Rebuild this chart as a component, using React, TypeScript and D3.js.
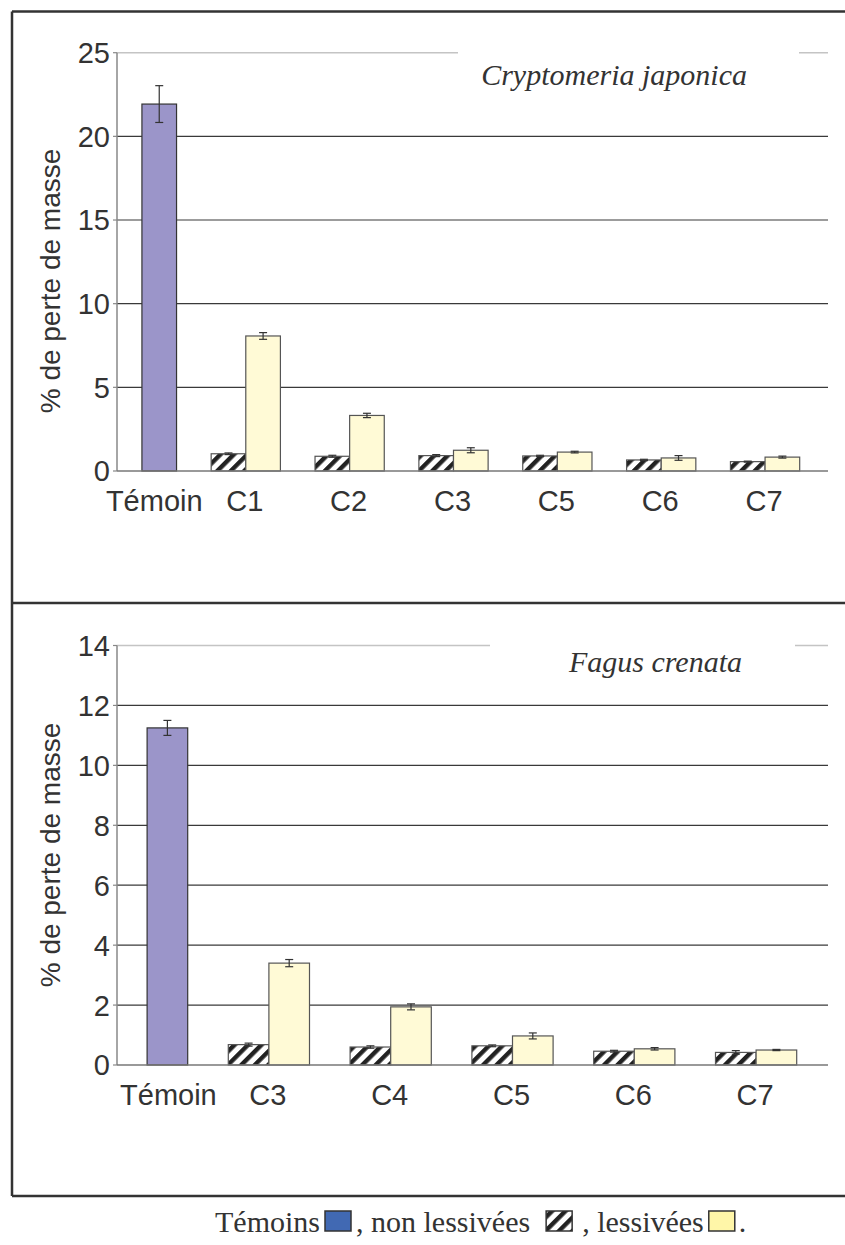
import * as d3 from "d3";
import { useEffect, useRef } from "react";

// Cryptomeria japonica panel
const topCategories = ["Témoin", "C1", "C2", "C3", "C5", "C6", "C7"];
const topTemoin = [21.93];
const topTemoinErr = [1.1];
const topNonLessivees = [null, 1.03, 0.88, 0.92, 0.9, 0.66, 0.56];
const topNonLessiveesErr = [null, 0.05, 0.06, 0.06, 0.04, 0.04, 0.03];
const topLessivees = [null, 8.07, 3.32, 1.24, 1.13, 0.78, 0.83];
const topLessiveesErr = [null, 0.2, 0.13, 0.15, 0.05, 0.14, 0.06];
const topTicks = [0, 5, 10, 15, 20, 25];

// Fagus crenata panel
const bottomCategories = ["Témoin", "C3", "C4", "C5", "C6", "C7"];
const bottomTemoin = [11.25];
const bottomTemoinErr = [0.25];
const bottomNonLessivees = [null, 0.68, 0.6, 0.64, 0.46, 0.42];
const bottomNonLessiveesErr = [null, 0.05, 0.04, 0.03, 0.03, 0.06];
const bottomLessivees = [null, 3.4, 1.94, 0.97, 0.54, 0.5];
const bottomLessiveesErr = [null, 0.12, 0.1, 0.1, 0.04, 0.02];
const bottomTicks = [0, 2, 4, 6, 8, 10, 12, 14];

const SANS = "'Liberation Sans', Arial, Helvetica, sans-serif";
const SERIF = "'Liberation Serif', 'Times New Roman', serif";
const C_TEMOIN = "#9b95c9";
const C_LESS = "#fffad6";
const C_DARK = "#333333";

interface PanelSpec {
  title: string;
  categories: string[];
  temoin: number[];
  temoinErr: number[];
  nonLess: (number | null)[];
  nonLessErr: (number | null)[];
  less: (number | null)[];
  lessErr: (number | null)[];
  ticks: number[];
  top: number;
  bottom: number;
  xStart: number;
  titleGap: [number, number];
  titleY: number;
  titleRight: number;
  yTitleCenter: number;
  temoinLabelShift: number;
}

export default function App() {
  const svgRef = useRef<SVGSVGElement>(null);

  useEffect(() => {
    if (!svgRef.current) return;
    const svg = d3.select(svgRef.current);
    svg.selectAll("*").remove();

    const defs = svg.append("defs");
    const pat = defs
      .append("pattern")
      .attr("id", "hatch")
      .attr("patternUnits", "userSpaceOnUse")
      .attr("width", 9.5)
      .attr("height", 9.5)
      .attr("patternTransform", "rotate(45)");
    pat.append("rect").attr("width", 9.5).attr("height", 9.5).attr("fill", "#fff");
    pat.append("rect").attr("width", 4.4).attr("height", 9.5).attr("fill", "#222");

    // frame
    const frame = svg.append("g").attr("stroke", C_DARK).attr("stroke-width", 2.5).attr("fill", "none");
    frame.append("line").attr("x1", 12).attr("x2", 845).attr("y1", 11.5).attr("y2", 11.5);
    frame.append("line").attr("x1", 12).attr("x2", 12).attr("y1", 11.5).attr("y2", 1196);
    frame.append("line").attr("x1", 12).attr("x2", 845).attr("y1", 603).attr("y2", 603);
    frame.append("line").attr("x1", 12).attr("x2", 845).attr("y1", 1196).attr("y2", 1196);

    const panels: PanelSpec[] = [
      {
        title: "Cryptomeria japonica",
        categories: topCategories,
        temoin: topTemoin,
        temoinErr: topTemoinErr,
        nonLess: topNonLessivees,
        nonLessErr: topNonLessiveesErr,
        less: topLessivees,
        lessErr: topLessiveesErr,
        ticks: topTicks,
        top: 52.7,
        bottom: 471,
        xStart: 90,
        titleGap: [458, 799],
        titleY: 85,
        titleRight: 747,
        yTitleCenter: 281,
        temoinLabelShift: -5,
      },
      {
        title: "Fagus crenata",
        categories: bottomCategories,
        temoin: bottomTemoin,
        temoinErr: bottomTemoinErr,
        nonLess: bottomNonLessivees,
        nonLessErr: bottomNonLessiveesErr,
        less: bottomLessivees,
        lessErr: bottomLessiveesErr,
        ticks: bottomTicks,
        top: 645.5,
        bottom: 1065,
        xStart: 86.2,
        titleGap: [490, 795],
        titleY: 672,
        titleRight: 742,
        yTitleCenter: 855,
        temoinLabelShift: 1,
      },
    ];

    const axisX = 117;
    const plotRight = 828;

    panels.forEach((p) => {
      const g = svg.append("g");
      const y = d3
        .scaleLinear()
        .domain([0, p.ticks[p.ticks.length - 1]])
        .range([p.bottom, p.top]);
      const x = d3.scaleBand().domain(p.categories).range([p.xStart, 817]).paddingInner(0).paddingOuter(0);
      const sub = d3
        .scaleBand()
        .domain(["non", "less"])
        .range([0, x.bandwidth()])
        .paddingInner(0)
        .paddingOuter(0.5);

      // gridlines
      p.ticks.slice(1).forEach((t, i, arr) => {
        g.append("line")
          .attr("x1", axisX)
          .attr("x2", plotRight)
          .attr("y1", y(t))
          .attr("y2", y(t))
          .attr("stroke", i === arr.length - 1 ? "#c4c4c4" : "#3a3a3a")
          .attr("stroke-width", i === arr.length - 1 ? 1.5 : 1.2);
      });

      // y axis
      g.append("line")
        .attr("x1", axisX)
        .attr("x2", axisX)
        .attr("y1", p.top)
        .attr("y2", p.bottom)
        .attr("stroke", "#888")
        .attr("stroke-width", 1.5);
      p.ticks.forEach((t) => {
        g.append("line")
          .attr("x1", axisX - 4)
          .attr("x2", axisX)
          .attr("y1", y(t))
          .attr("y2", y(t))
          .attr("stroke", "#888")
          .attr("stroke-width", 1.2);
        g.append("text")
          .attr("x", 110)
          .attr("y", y(t))
          .attr("dy", "0.36em")
          .attr("text-anchor", "end")
          .style("font-family", SANS)
          .style("font-size", "29px")
          .style("fill", C_DARK)
          .text(t);
      });

      // title box
      g.append("rect")
        .attr("x", p.titleGap[0])
        .attr("y", p.top - 4)
        .attr("width", p.titleGap[1] - p.titleGap[0])
        .attr("height", 50)
        .attr("fill", "#fff");
      g.append("text")
        .attr("x", p.titleRight)
        .attr("y", p.titleY)
        .attr("text-anchor", "end")
        .style("font-family", SERIF)
        .style("font-style", "italic")
        .style("font-size", "30px")
        .style("fill", C_DARK)
        .text(p.title);

      // y title
      g.append("text")
        .attr("transform", `translate(60,${p.yTitleCenter}) rotate(-90)`)
        .attr("text-anchor", "middle")
        .style("font-family", SANS)
        .style("font-size", "28px")
        .style("fill", C_DARK)
        .text("% de perte de masse");

      const errBar = (cx: number, v: number, e: number) => {
        const eg = g.append("g").attr("stroke", C_DARK).attr("stroke-width", 1.2);
        eg.append("line").attr("x1", cx).attr("x2", cx).attr("y1", y(v + e)).attr("y2", y(v - e));
        eg.append("line").attr("x1", cx - 4).attr("x2", cx + 4).attr("y1", y(v + e)).attr("y2", y(v + e));
        eg.append("line").attr("x1", cx - 4).attr("x2", cx + 4).attr("y1", y(v - e)).attr("y2", y(v - e));
      };

      // Témoin bar (sits in the second slot of its category)
      p.temoin.forEach((v, i) => {
        const cat = p.categories[0];
        const bx = x(cat)! + sub("less")!;
        g.append("rect")
          .attr("x", bx)
          .attr("y", y(v))
          .attr("width", sub.bandwidth())
          .attr("height", y(0) - y(v))
          .attr("fill", C_TEMOIN)
          .attr("stroke", C_DARK)
          .attr("stroke-width", 1.2);
        errBar(bx + sub.bandwidth() / 2, v, p.temoinErr[i]);
      });

      p.categories.forEach((cat, i) => {
        const nv = p.nonLess[i];
        const lv = p.less[i];
        if (nv != null) {
          const bx = x(cat)! + sub("non")!;
          g.append("rect")
            .attr("x", bx)
            .attr("y", y(nv))
            .attr("width", sub.bandwidth())
            .attr("height", y(0) - y(nv))
            .attr("fill", "url(#hatch)")
            .attr("stroke", "#555")
            .attr("stroke-width", 1.2);
          errBar(bx + sub.bandwidth() / 2, nv, p.nonLessErr[i]!);
        }
        if (lv != null) {
          const bx = x(cat)! + sub("less")!;
          g.append("rect")
            .attr("x", bx)
            .attr("y", y(lv))
            .attr("width", sub.bandwidth())
            .attr("height", y(0) - y(lv))
            .attr("fill", C_LESS)
            .attr("stroke", "#555")
            .attr("stroke-width", 1.2);
          errBar(bx + sub.bandwidth() / 2, lv, p.lessErr[i]!);
        }
      });

      // baseline
      g.append("line")
        .attr("x1", axisX)
        .attr("x2", plotRight)
        .attr("y1", y(0))
        .attr("y2", y(0))
        .attr("stroke", "#777")
        .attr("stroke-width", 1.5);

      // category labels
      p.categories.forEach((cat, i) => {
        const cx =
          i === 0
            ? x(cat)! + sub("less")! + sub.bandwidth() / 2 + p.temoinLabelShift
            : x(cat)! + x.bandwidth() / 2 - 1;
        g.append("text")
          .attr("x", cx)
          .attr("y", y(0) + 40)
          .attr("text-anchor", "middle")
          .style("font-family", SANS)
          .style("font-size", "29px")
          .style("fill", C_DARK)
          .text(cat);
      });
    });

    // legend
    const lg = svg.append("g").style("font-family", SERIF).style("font-size", "30px").style("fill", C_DARK);
    const baseY = 1232;
    let cx = 215;
    const addText = (s: string) => {
      const t = lg.append("text").attr("x", cx).attr("y", baseY).text(s);
      cx += (t.node() as SVGTextElement).getComputedTextLength();
    };
    const addBox = (fill: string) => {
      lg.append("rect")
        .attr("x", cx)
        .attr("y", baseY - 21)
        .attr("width", 26)
        .attr("height", 20)
        .attr("fill", fill)
        .attr("stroke", C_DARK)
        .attr("stroke-width", 1.5);
      cx += 26;
    };
    addText("Témoins");
    cx += 5;
    addBox("#4169b3");
    cx += 5;
    addText(", non lessivées");
    cx += 16;
    addBox("url(#hatch)");
    cx += 10;
    addText(", lessivées");
    cx += 5;
    addBox("#fff6a8");
    cx += 4;
    addText(".");
  }, []);

  return (
    <svg
      ref={svgRef}
      width={845}
      height={1245}
      style={{ position: "absolute", left: 0, top: 0, background: "#fff" }}
    />
  );
}
